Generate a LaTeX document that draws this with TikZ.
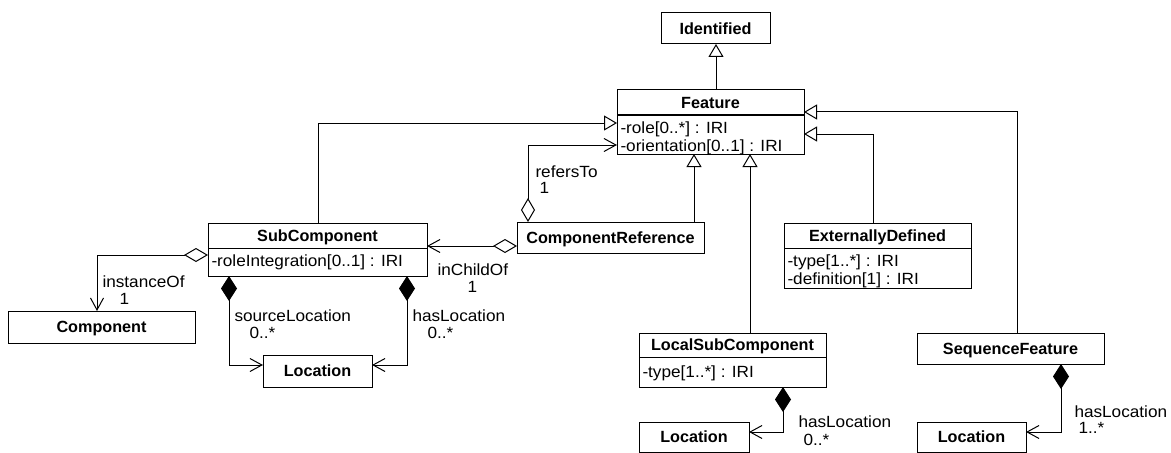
\documentclass[tikz,border=0pt]{standalone}
\usepackage{fontspec}
\usetikzlibrary{arrows.meta,calc,fit}
\newfontfamily\rfam[FakeStretch=1.06]{Liberation Sans}
\newfontfamily\bfam{Liberation Sans}
\newcommand\rfont{\rfam\fontsize{12.15pt}{14pt}\selectfont}
\newcommand\bfont{\bfam\bfseries\fontsize{12.15pt}{14pt}\selectfont}
\begin{document}
\begin{tikzpicture}[x=0.75pt,y=-0.75pt,line width=0.75pt,
  cls/.style={draw, line width=0.75pt, inner sep=0pt, outer sep=0pt},
  ttl/.style={font=\bfont, inner sep=0pt, text height=8.7pt, text depth=0pt},
  attr/.style={font=\rfont, anchor=west, inner sep=0pt, text height=8.7pt, text depth=0pt},
  lbl/.style={font=\rfont, anchor=west, inner sep=0pt, text height=8.7pt, text depth=0pt},
  gen/.style={-{Triangle[fill=white,length=9.75pt,width=11.25pt]}},
  agg/.style={{Diamond[fill=white,length=18pt,width=10.5pt]}-{Straight Barb[length=9pt,width=9.75pt]}},
  cmp/.style={{Diamond[length=18.75pt,width=12pt]}-{Straight Barb[length=9pt,width=9.75pt]}}]
\useasboundingbox (0,0) rectangle (1171,453);

% classes
\node[cls, fit={(661,13) (770,44)}] (ident) {};
\node[ttl] (identT) at (715.5,28.5) {Identified};

\node[cls, fit={(617,90) (804,154)}] (feat) {};
\draw (617,115) -- (804,115);
\node[ttl] (featT) at (710.5,102.5) {Feature};
\node[attr] (featA1) at (620,128) {-role[0..*] : IRI};
\node[attr] (featA2) at (620,146) {-orientation[0..1] : IRI};

\node[cls, fit={(208,223) (427,276)}] (sub) {};
\draw (208,248) -- (427,248);
\node[ttl] (subT) at (317.5,236) {SubComponent};
\node[attr] (subA1) at (211,261) {-roleIntegration[0..1] : IRI};

\node[cls, fit={(517,222) (704,253)}] (cref) {};
\node[ttl] (crefT) at (610.5,237.5) {ComponentReference};

\node[cls, fit={(784,223) (971,288)}] (ext) {};
\draw (784,248) -- (971,248);
\node[ttl] (extT) at (877.5,236) {ExternallyDefined};
\node[attr] (extA1) at (787,261) {-type[1..*] : IRI};
\node[attr] (extA2) at (787,279) {-definition[1] : IRI};

\node[cls, fit={(639,333) (826,387)}] (lsc) {};
\draw (639,357) -- (826,357);
\node[ttl] (lscT) at (732.5,345) {LocalSubComponent};
\node[attr] (lscA1) at (642,372) {-type[1..*] : IRI};

\node[cls, fit={(917,333) (1104,364)}] (seqf) {};
\node[ttl] (seqfT) at (1010.5,348.5) {SequenceFeature};

\node[cls, fit={(8,311) (195,343)}] (comp) {};
\node[ttl] (compT) at (101.5,327) {Component};

\node[cls, fit={(263,355) (372,387)}] (loc1) {};
\node[ttl] (loc1T) at (317.5,371) {Location};

\node[cls, fit={(639,422) (749,452)}] (loc2) {};
\node[ttl] (loc2T) at (694,437) {Location};

\node[cls, fit={(917,422) (1026,452)}] (loc3) {};
\node[ttl] (loc3T) at (971.5,437) {Location};

% generalizations
\draw[gen] ($(feat.north west)+(99,0)$) -- ($(ident.south west)+(55,0)$);
\draw[gen] ($(sub.north west)+(110,0)$) |- ($(feat.north west)+(0,33)$);
\draw[gen] ($(cref.north west)+(177,0)$) -- ($(feat.south west)+(77,0)$);
\draw[gen] ($(lsc.north west)+(111,0)$) -- ($(feat.south west)+(133,0)$);
\draw[gen] ($(ext.north west)+(89,0)$) |- ($(feat.north east)+(0,44)$);
\draw[gen] ($(seqf.north west)+(100,0)$) |- ($(feat.north east)+(0,22)$);

% associations
\draw[agg] ($(cref.north west)+(11,0)$) |- ($(feat.north west)+(0,55)$);
\node[lbl] (refL) at (535,172) {refersTo};
\node[lbl] (refM) at (539,188) {1};

\draw[agg] ($(cref.north west)+(0,24)$) -- ($(sub.north east)+(0,23)$);
\node[lbl] (chL) at (437,270) {inChildOf};
\node[lbl] (chM) at (467,287) {1};

\draw[agg] ($(sub.north west)+(0,32)$) -| ($(comp.north west)+(89,0)$);
\node[lbl] (instL) at (102,282) {instanceOf};
\node[lbl] (instM) at (119,299) {1};

\draw[cmp] ($(sub.south west)+(21,0)$) |- ($(loc1.north west)+(0,10)$);
\node[lbl] (srcL) at (234,316) {sourceLocation};
\node[lbl] (srcM) at (249,333) {0..*};

\draw[cmp] ($(sub.south west)+(199,0)$) |- ($(loc1.north east)+(0,10)$);
\node[lbl] (hasL1) at (412,316) {hasLocation};
\node[lbl] (hasM1) at (427,333) {0..*};

\draw[cmp] ($(lsc.south west)+(144,0)$) |- ($(loc2.north east)+(0,10)$);
\node[lbl] (hasL2) at (798,422) {hasLocation};
\node[lbl] (hasM2) at (803,440) {0..*};

\draw[cmp] ($(seqf.south west)+(144,0)$) |- ($(loc3.north east)+(0,10)$);
\node[lbl] (hasL3) at (1074,412) {hasLocation};
\node[lbl] (hasM3) at (1078,428) {1..*};
\end{tikzpicture}
\end{document}
